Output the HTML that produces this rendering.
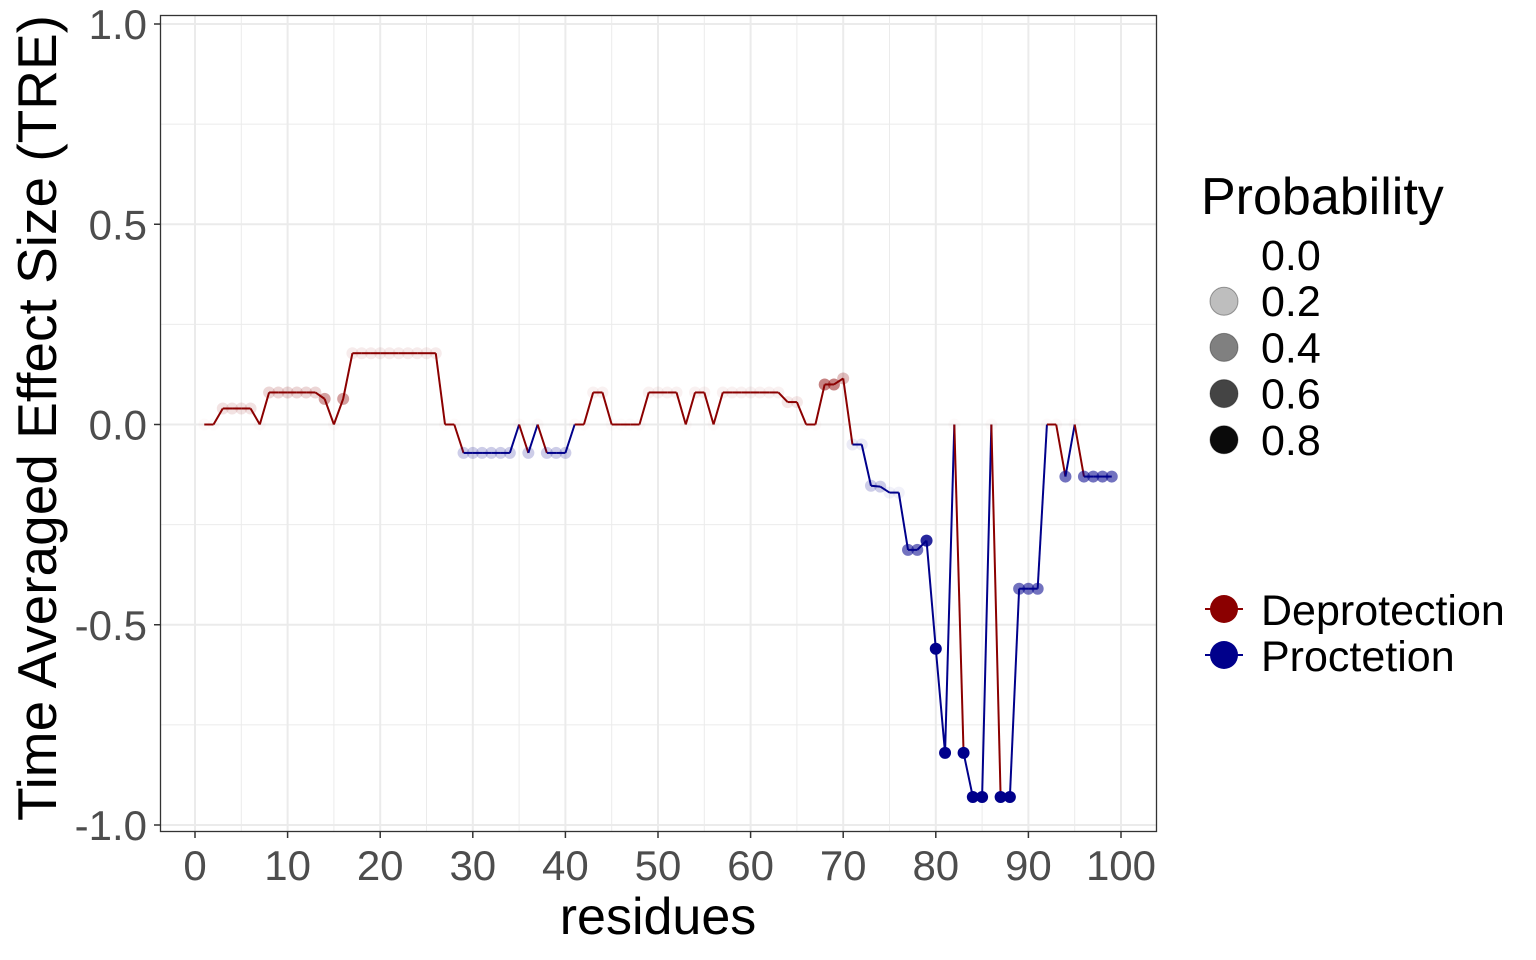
<!DOCTYPE html>
<html><head><meta charset="utf-8"><style>
html,body{margin:0;padding:0;background:#fff}
svg{display:block}
text{font-family:"Liberation Sans",Arial,sans-serif}
</style></head><body>
<svg id="chart" width="1536" height="960" viewBox="0 0 1536 960" xmlns="http://www.w3.org/2000/svg">
<rect width="1536" height="960" fill="#fff"/>
<g id="grid"></g>
<g id="lines"></g>
<g id="points"></g>
<rect x="160.5" y="15.5" width="996" height="816" fill="none" stroke="#333" stroke-width="1.3"/>
<g id="axes"></g>
<text x="658" y="934" font-size="52" text-anchor="middle" fill="#000">residues</text>
<text transform="translate(56,418) rotate(-90)" font-size="55" text-anchor="middle" fill="#000">Time Averaged Effect Size (TRE)</text>
<g id="legend"></g>
</svg>
<script>
const residues=[1,2,3,4,5,6,7,8,9,10,11,12,13,14,15,16,17,18,19,20,21,22,23,24,25,26,27,28,29,30,31,32,33,34,35,36,37,38,39,40,41,42,43,44,45,46,47,48,49,50,51,52,53,54,55,56,57,58,59,60,61,62,63,64,65,66,67,68,69,70,71,72,73,74,75,76,77,78,79,80,81,82,83,84,85,86,87,88,89,90,91,92,93,94,95,96,97,98,99];
const treValues=[0,0,0.04,0.04,0.04,0.04,0,0.08,0.08,0.08,0.08,0.08,0.08,0.064,0,0.064,0.178,0.178,0.178,0.178,0.178,0.178,0.178,0.178,0.178,0.178,0,0,-0.071,-0.071,-0.071,-0.071,-0.071,-0.071,0,-0.071,0,-0.071,-0.071,-0.071,0,0,0.08,0.08,0,0,0,0,0.08,0.08,0.08,0.08,0,0.08,0.08,0,0.08,0.08,0.08,0.08,0.08,0.08,0.08,0.056,0.056,0,0,0.1,0.1,0.115,-0.05,-0.05,-0.153,-0.155,-0.17,-0.17,-0.313,-0.313,-0.29,-0.56,-0.82,0,-0.82,-0.93,-0.93,0,-0.93,-0.93,-0.41,-0.41,-0.41,0,0,-0.13,0,-0.13,-0.13,-0.13,-0.13];
const probability=[0,0,0.08,0.08,0.08,0.08,0,0.12,0.12,0.12,0.12,0.12,0.12,0.3,0,0.3,0.05,0.05,0.05,0.05,0.05,0.05,0.05,0.05,0.05,0.05,0,0,0.15,0.15,0.15,0.15,0.15,0.15,0,0.15,0,0.15,0.15,0.15,0,0,0.03,0.03,0,0,0,0,0.03,0.03,0.03,0.03,0,0.03,0.03,0,0.03,0.03,0.03,0.03,0.03,0.03,0.03,0.06,0.06,0,0,0.4,0.4,0.2,0.05,0.05,0.15,0.15,0.03,0.03,0.45,0.45,0.7,0.9,0.9,0,0.9,0.9,0.9,0,0.9,0.9,0.45,0.45,0.45,0,0,0.45,0,0.45,0.45,0.45,0.45];
const xTicks=[0,10,20,30,40,50,60,70,80,90,100];
const yTicks=[-1,-0.5,0,0.5,1];
const yTickLabels=["-1.0","-0.5","0.0","0.5","1.0"];
const probBreaks=[0,0.2,0.4,0.6,0.8];
const probLabels=["0.0","0.2","0.4","0.6","0.8"];
const colorLabels=["Deprotection","Proctetion"];

const NS="http://www.w3.org/2000/svg";
const X=r=>195+9.26*r;
const Y=v=>424.5-400.5*v;
const RED="#8b0000",BLUE="#00008b";
const col=v=>v>=0?RED:BLUE;
const alpha=p=>Math.min(1,0.02+1.18*p);
const legendGray=["#ffffff","#bebebe","#808080","#444444","#0a0a0a"];
function mk(tag,attrs,parent){const e=document.createElementNS(NS,tag);for(const k in attrs)e.setAttribute(k,attrs[k]);parent.appendChild(e);return e;}
const grid=document.getElementById('grid');
for(let t=-1;t<=1.001;t+=0.25){
  const major=Math.abs(t*2-Math.round(t*2))<1e-6;
  const l=mk('line',{x1:160,x2:1157,y1:Y(t),y2:Y(t),stroke:'#ebebeb','stroke-width':major?2:1},grid);
  
  
}
for(let t=0;t<=100;t+=5){
  const major=t%10===0;
  const l=mk('line',{x1:X(t),x2:X(t),y1:15,y2:832,stroke:'#ebebeb','stroke-width':major?2:1},grid);
  
  
}
const lines=document.getElementById('lines');
for(let i=0;i<residues.length-1;i++){
  const s=mk('line',{x1:X(residues[i]),y1:Y(treValues[i]),x2:X(residues[i+1]),y2:Y(treValues[i+1]),stroke:col(treValues[i]),'stroke-width':2,'stroke-linecap':'butt'},lines);
  
  
}
const pts=document.getElementById('points');
for(let i=0;i<residues.length;i++){
  const c=mk('circle',{cx:X(residues[i]),cy:Y(treValues[i]),r:6,fill:col(treValues[i]),'fill-opacity':alpha(probability[i])},pts);
  
  
}
const axes=document.getElementById('axes');
xTicks.forEach(t=>{
  const tk=mk('line',{x1:X(t),x2:X(t),y1:832,y2:838,stroke:'#333','stroke-width':1.5},axes);
  
  
  const tx=mk('text',{x:X(t),y:880,'font-size':42,'text-anchor':'middle',fill:'#4d4d4d'},axes);
  tx.textContent=t;
  
  
});
yTicks.forEach((t,i)=>{
  const tk=mk('line',{x1:154,x2:160,y1:Y(t),y2:Y(t),stroke:'#333','stroke-width':1.5},axes);
  
  
  const tx=mk('text',{x:147,y:Y(t)+15,'font-size':42,'text-anchor':'end',fill:'#4d4d4d'},axes);
  tx.textContent=yTickLabels[i];
  
  
});
const lg=document.getElementById('legend');
const lt=mk('text',{x:1201,y:214,'font-size':52,fill:'#000'},lg);
lt.textContent='Probability';


probBreaks.forEach((p,i)=>{
  const cy=255+i*46.2;
  const c=mk('circle',{cx:1224,cy:cy,r:14,fill:legendGray[i],stroke:'#000','stroke-opacity':p>0?0.35:0},lg);
  
  
  const t=mk('text',{x:1261,y:cy+15,'font-size':43,fill:'#000'},lg);
  t.textContent=probLabels[i];
  
  
});
colorLabels.forEach((lab,i)=>{
  const cy=609+i*46;
  const c0=i===0?RED:BLUE;
  const l=mk('line',{x1:1205,x2:1243,y1:cy,y2:cy,stroke:c0,'stroke-width':2},lg);
  
  
  const c=mk('circle',{cx:1224,cy:cy,r:14,fill:c0},lg);
  
  
  const t=mk('text',{x:1261,y:cy+16,'font-size':43,fill:'#000'},lg);
  t.textContent=lab;
  
  
});
</script>
</body></html>
